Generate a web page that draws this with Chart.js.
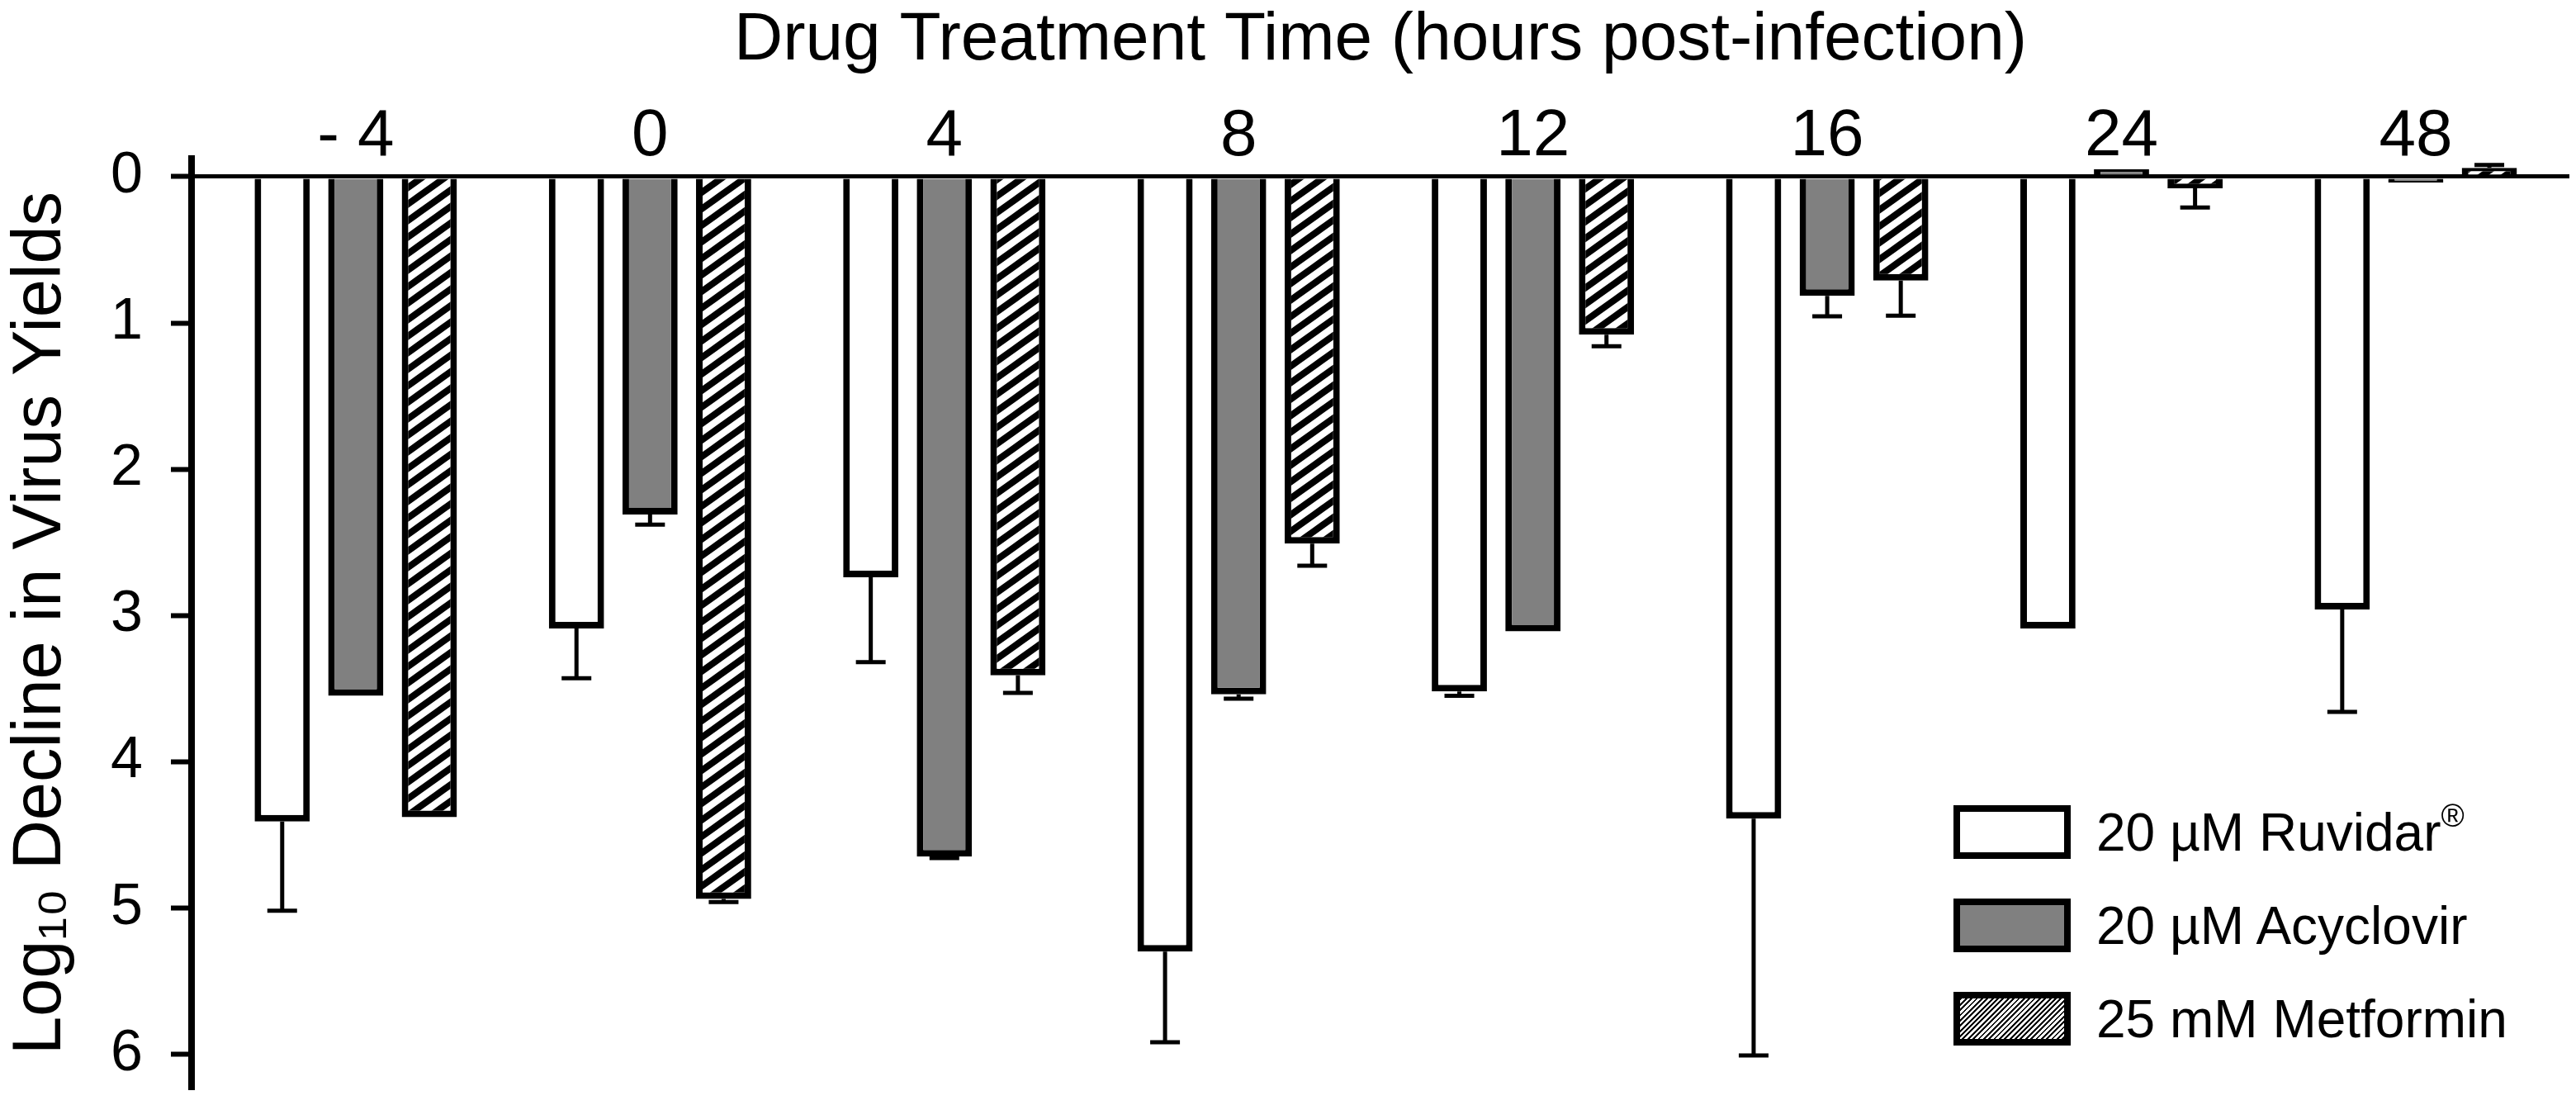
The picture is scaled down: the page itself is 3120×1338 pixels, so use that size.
<!DOCTYPE html>
<html>
<head>
<meta charset="utf-8">
<script src="https://cdn.jsdelivr.net/npm/chart.js@4.4.1/dist/chart.umd.min.js"></script>
<style>
  html, body { margin: 0; padding: 0; background: #fff; }
  #wrap { position: relative; width: 3120px; height: 1338px; }
  #legend { position: absolute; left: 2366px; top: 975px; font-family: "Liberation Sans", Arial, sans-serif; font-size: 64px; color: #000; }
  .row { display: flex; align-items: center; height: 65px; margin-bottom: 48px; white-space: nowrap; }
  .sw { box-sizing: border-box; width: 142px; height: 65px; border: 8px solid #000; margin-right: 31px; }
  .row sup { font-size: 0.6em; vertical-align: 0.75em; line-height: 0; }
</style>
</head>
<body>
<div id="wrap">
  <canvas id="chart" width="3120" height="1338"></canvas>
  <div id="legend"></div>
</div>
<script>
const categories = ['- 4', '0', '4', '8', '12', '16', '24', '48'];
const seriesNames = ['20 µM Ruvidar®', '20 µM Acyclovir', '25 mM Metformin'];

const ruvidar = [4.41, 3.09, 2.74, 5.30, 3.52, 4.39, 3.09, 2.96];
const ruvidarErr = [0.61, 0.34, 0.58, 0.62, 0.03, 1.62, 0, 0.70];
const acyclovir = [3.55, 2.31, 4.65, 3.54, 3.11, 0.815, -0.05, 0.04];
const acyclovirErr = [0, 0.07, 0.01, 0.03, 0, 0.14, 0, 0];
const metformin = [4.38, 4.94, 3.41, 2.51, 1.08, 0.71, 0.08, -0.06];
const metforminErr = [0, 0.02, 0.12, 0.15, 0.08, 0.24, 0.13, 0.02];

const yTicks = [0, 1, 2, 3, 4, 5, 6];
const xTitle = 'Drug Treatment Time (hours post-infection)';
const yTitle = 'Log₁₀ Decline in Virus Yields';

const FONT = '"Liberation Sans", Arial, sans-serif';
Chart.defaults.font.family = FONT;
Chart.defaults.color = '#000';

// diagonal hatch used for the metformin bars
function hatchPattern() {
  const w = 28, h = 20;
  const c = document.createElement('canvas');
  c.width = w; c.height = h;
  const g = c.getContext('2d');
  g.fillStyle = '#fff';
  g.fillRect(0, 0, w, h);
  g.strokeStyle = '#000';
  g.lineWidth = 8;
  for (const dy of [-h, 0, h]) {
    g.beginPath();
    g.moveTo(-w, 2 * h + dy);
    g.lineTo(2 * w, -h + dy);
    g.stroke();
  }
  return g.createPattern(c, 'repeat');
}

const toXY = (arr) => arr.map((v, i) => ({ x: i, y: v }));

const errorBars = {
  id: 'errorBars',
  afterDatasetsDraw(chart) {
    const { ctx } = chart;
    const ys = chart.scales.y;
    chart.data.datasets.forEach((ds, i) => {
      const meta = chart.getDatasetMeta(i);
      meta.data.forEach((bar, j) => {
        const v = ds.data[j].y, e = ds.err[j];
        if (!e) return;
        const y1 = ys.getPixelForValue(v);
        const y2 = ys.getPixelForValue(v + (v < 0 ? -e : e));
        ctx.save();
        ctx.strokeStyle = '#000';
        ctx.lineWidth = 5;
        ctx.beginPath();
        ctx.moveTo(bar.x, y1);
        ctx.lineTo(bar.x, y2);
        ctx.moveTo(bar.x - 18, y2);
        ctx.lineTo(bar.x + 18, y2);
        ctx.stroke();
        ctx.restore();
      });
    });
  },
};

const fills = ['#ffffff', '#808080', hatchPattern()];
const errs = [ruvidarErr, acyclovirErr, metforminErr];

new Chart(document.getElementById('chart'), {
  type: 'bar',
  data: {
    datasets: [ruvidar, acyclovir, metformin].map((vals, k) => ({
      label: seriesNames[k],
      data: toXY(vals),
      err: errs[k],
      backgroundColor: fills[k],
      borderColor: '#000',
      borderWidth: 8,
      borderSkipped: 'start',
      categoryPercentage: 0.75,
      barPercentage: 0.75,
    })),
  },
  options: {
    responsive: false,
    animation: false,
    layout: { padding: { left: 0, top: 0, right: 8, bottom: 21 } },
    plugins: { legend: { display: false }, tooltip: { enabled: false } },
    scales: {
      x: {
        type: 'linear',
        position: 'top',
        offset: false,
        min: -0.558,
        max: 7.522,
        grid: { display: false, drawTicks: false },
        border: { display: false },
        ticks: {
          stepSize: 1,
          includeBounds: false,
          autoSkip: false,
          maxRotation: 0,
          padding: -14,
          color: '#000',
          font: { size: 80, lineHeight: 1 },
          callback: (v) => categories[v] ?? '',
        },
        title: { display: true, text: xTitle, color: '#000', padding: 0, font: { size: 82, lineHeight: 1.2 } },
        afterFit: (s) => { s.height = 192; s.paddingLeft = s.paddingRight = 0; },
      },
      y: {
        type: 'linear',
        reverse: true,
        min: -0.124,
        max: 6.23,
        z: 1,
        afterBuildTicks: (s) => { s.ticks = yTicks.map((v) => ({ value: v })); },
        grid: {
          color: (c) => (c.tick && c.tick.value === 0 ? '#000' : 'rgba(0,0,0,0)'),
          lineWidth: 5,
          tickColor: '#000',
          tickLength: 25,
          tickWidth: 6,
        },
        border: { display: true, color: '#000', width: 8 },
        ticks: { padding: 34, color: '#000', font: { size: 70 } },
        title: { display: true, text: yTitle, color: '#000', padding: 0, font: { size: 83, lineHeight: 1.2 } },
        afterFit: (s) => { s.width = 232; s.paddingTop = s.paddingBottom = 0; },
      },
    },
  },
  plugins: [errorBars],
});

// legend
const swatchBg = [
  '#fff',
  '#808080',
  'repeating-linear-gradient(135deg, #000 0 2px, #fff 2px 4.5px)',
];
document.getElementById('legend').innerHTML = seriesNames
  .map((n, k) => `<div class="row"><div class="sw" style="background:${swatchBg[k]}"></div><span>${n.replace('®', '<sup>®</sup>')}</span></div>`)
  .join('');
</script>
</body>
</html>
